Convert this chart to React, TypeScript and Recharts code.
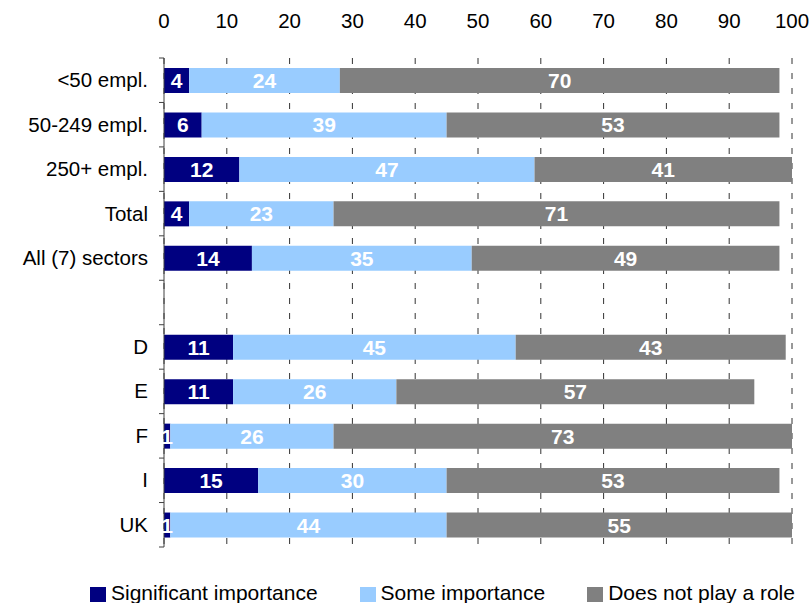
import { BarChart, Bar, XAxis, YAxis, CartesianGrid, Legend, LabelList } from "recharts";

const categories = [
	"<50 empl.",
	"50-249 empl.",
	"250+ empl.",
	"Total",
	"All (7) sectors",
	"",
	"D",
	"E",
	"F",
	"I",
	"UK",
];
const significant = [4, 6, 12, 4, 14, null, 11, 11, 1, 15, 1];
const someImportance = [24, 39, 47, 23, 35, null, 45, 26, 26, 30, 44];
const noRole = [70, 53, 41, 71, 49, null, 43, 57, 73, 53, 55];
const xTicks = [0, 10, 20, 30, 40, 50, 60, 70, 80, 90, 100];

const series = [
	{ key: "significant", name: "Significant importance", color: "#000080" },
	{ key: "some", name: "Some importance", color: "#99ccff" },
	{ key: "none", name: "Does not play a role", color: "#808080" },
];

const data = categories.map((cat, i) => ({
	cat,
	significant: significant[i],
	some: someImportance[i],
	none: noRole[i],
}));

const FONT = "'Liberation Sans', Arial, Helvetica, sans-serif";

// category label plus the small marks between bands (Excel style)
function CategoryTick(props: any) {
	const { x, y, payload, index, visibleTicksCount } = props;
	const half = payload?.offset || 22.25;
	const axisX = x + 16;
	return (
		<g>
			<text x={x} y={y} dy={7} textAnchor="end" fontSize={20.5} fill="#000">
				{payload.value}
			</text>
			<line x1={axisX - 5} x2={axisX} y1={y - half} y2={y - half} stroke="#404040" />
			{index === visibleTicksCount - 1 && (
				<line x1={axisX - 5} x2={axisX} y1={y + half} y2={y + half} stroke="#404040" />
			)}
		</g>
	);
}

function renderLegend() {
	return (
		<div
			style={{
				display: "flex",
				paddingTop: 35,
				paddingLeft: 90,
				fontSize: 21,
				lineHeight: "21px",
				color: "#000",
				whiteSpace: "nowrap",
				width: 812,
				boxSizing: "border-box",
			}}
		>
			{series.map((s) => (
				<div key={s.key} style={{ display: "flex", alignItems: "center", marginRight: 42 }}>
					<span
						style={{
							width: 16,
							height: 15,
							background: s.color,
							display: "inline-block",
							marginRight: 5,
							marginTop: 4,
						}}
					/>
					<span>{s.name}</span>
				</div>
			))}
		</div>
	);
}

export default function App() {
	return (
		<div style={{ width: 812, height: 603, fontFamily: FONT, background: "#fff" }}>
			<style>{"body{margin:0}"}</style>
			<BarChart
				width={812}
				height={603}
				data={data}
				layout="vertical"
				margin={{ top: 0, right: 20, bottom: 0, left: 0 }}
				barSize={25}
			>
				<CartesianGrid horizontal={false} stroke="#333" strokeDasharray="6 9" />
				<XAxis
					type="number"
					orientation="top"
					domain={[0, 100]}
					ticks={xTicks}
					axisLine={false}
					tickLine={false}
					height={58}
					tickMargin={24}
					tick={{ fontSize: 20.5, fill: "#000" }}
				/>
				<YAxis
					type="category"
					dataKey="cat"
					width={164}
					tickLine={false}
					tickSize={6}
					tickMargin={10}
					axisLine={{ stroke: "#404040" }}
					tick={<CategoryTick />}
					interval={0}
				/>
				<Legend
					verticalAlign="bottom"
					height={56}
					content={renderLegend}
					wrapperStyle={{ left: 0, width: 812 }}
				/>
				{series.map((s) => (
					<Bar
						key={s.key}
						dataKey={s.key}
						name={s.name}
						stackId="a"
						fill={s.color}
						isAnimationActive={false}
					>
						<LabelList
							dataKey={s.key}
							position="center"
							fill="#fff"
							fontSize={21}
							fontWeight="bold"
						/>
					</Bar>
				))}
			</BarChart>
		</div>
	);
}
